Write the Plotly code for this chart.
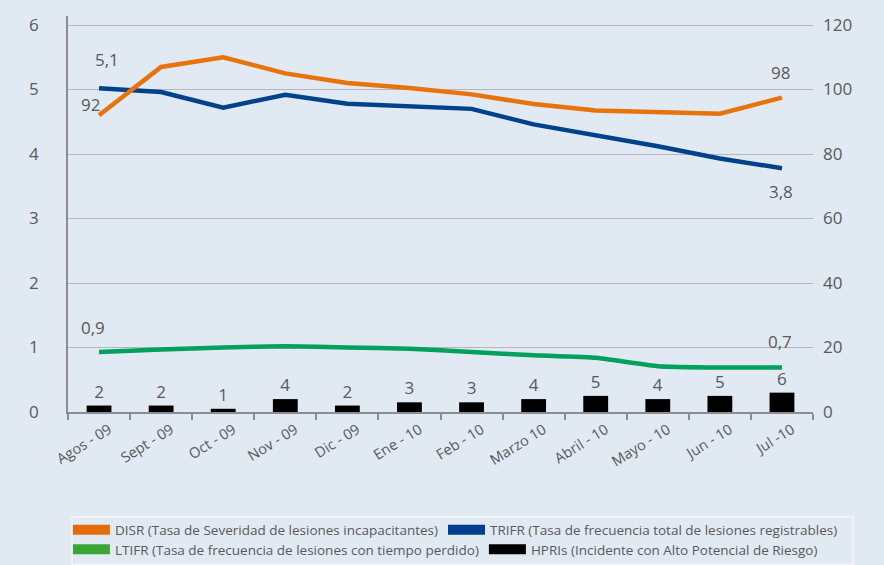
import plotly.graph_objects as go

meses = ["Agos - 09", "Sept - 09", "Oct - 09", "Nov - 09", "Dic - 09", "Ene - 10",
         "Feb - 10", "Marzo 10", "Abril - 10", "Mayo - 10", "Jun - 10", "Jul -10"]
disr = [92, 107, 110, 105, 102, 100.5, 98.5, 95.5, 93.5, 93, 92.5, 97.5]
trifr = [5.02, 4.96, 4.72, 4.92, 4.78, 4.74, 4.70, 4.46, 4.29, 4.12, 3.93, 3.78]
ltifr = [0.93, 0.97, 1.0, 1.02, 1.0, 0.98, 0.93, 0.88, 0.84, 0.71, 0.69, 0.69]
hpri = [2, 2, 1, 4, 2, 3, 3, 4, 5, 4, 5, 6]

# end-point labels (text as printed on the chart)
etiquetas = [
    # (serie, indice, texto, eje, xshift, yshift)
    ("trifr", 0, "5,1", "y", 8, 29),
    ("disr", 0, "92", "y2", -9, 11),
    ("disr", 11, "98", "y2", -1, 25),
    ("trifr", 11, "3,8", "y", -1, -23),
    ("ltifr", 0, "0,9", "y", -6, 25),
    ("ltifr", 11, "0,7", "y", -2, 26),
]
series = {"disr": disr, "trifr": trifr, "ltifr": ltifr}

nombres = ["DISR (Tasa de Severidad de lesiones incapacitantes)",
           "TRIFR (Tasa de frecuencia total de lesiones registrables)",
           "LTIFR (Tasa de frecuencia de lesiones con tiempo perdido)",
           "HPRIs (Incidente con Alto Potencial de Riesgo)"]

BG = "#e1e9f2"
TXT = "#595959"
GRID = "#b3b6ba"
AXC = "#8a8d91"
FONT = "Open Sans"

c_or, c_bl, c_gr = "#e8720c", "#00418c", "#00a05e"

idx = list(range(len(meses)))

fig = go.Figure()

fig.add_trace(go.Bar(x=idx, y=hpri, yaxis="y2", width=0.4,
                     marker=dict(color="#000000", line=dict(width=0)),
                     text=[str(v) for v in hpri], textposition="outside",
                     textfont=dict(size=17, color=TXT, family=FONT),
                     cliponaxis=False, showlegend=False, hoverinfo="skip"))
fig.add_trace(go.Scatter(x=idx, y=trifr, mode="lines", yaxis="y",
                         line=dict(color=c_bl, width=4.5), showlegend=False))
fig.add_trace(go.Scatter(x=idx, y=ltifr, mode="lines", yaxis="y",
                         line=dict(color=c_gr, width=4.5, shape="spline", smoothing=0.3),
                         showlegend=False))
fig.add_trace(go.Scatter(x=idx, y=disr, mode="lines", yaxis="y2",
                         line=dict(color=c_or, width=4.5), showlegend=False))

# legend-only entries (wide coloured swatches)
leg_cols = ["#e36c09", "#003f8f", "#3ca634", "#000000"]
leg_ids = ["legend", "legend", "legend2", "legend2"]
for nm, col, lg in zip(nombres, leg_cols, leg_ids):
    fig.add_trace(go.Scatter(x=[None], y=[None], mode="lines", name=nm,
                             line=dict(color=col, width=11), yaxis="y",
                             legend=lg, showlegend=True))

ann = []
for s, i, t, ax, dx, dy in etiquetas:
    ann.append(dict(x=idx[i], y=series[s][i], xref="x", yref=ax, text=t,
                    showarrow=False, xshift=dx, yshift=dy,
                    font=dict(size=17, color=TXT, family=FONT)))

L, R, T, B = 68, 813, 16, 412
W, H = 884, 565
pw, ph = R - L, B - T

def px2x(p):
    return (p - L) / pw

def px2y(p):
    return (B - p) / ph

fig.update_layout(
    width=W, height=H,
    margin=dict(l=L, r=W - R, t=T, b=H - B, autoexpand=False),
    paper_bgcolor=BG, plot_bgcolor=BG,
    font=dict(family=FONT, color=TXT),
    xaxis=dict(range=[-0.5, len(meses) - 0.5], showline=True, linecolor=AXC, linewidth=1.5,
               tickmode="array", tickvals=[i + 0.16 for i in idx], ticktext=meses,
               ticks="", tickangle=-32, tickfont=dict(size=14.5, color=TXT),
               ticklabelstandoff=2,
               minor=dict(tickmode="array", tickvals=[i - 0.5 for i in range(len(meses) + 1)],
                          ticks="outside", ticklen=6, tickcolor=AXC, tickwidth=1.5,
                          showgrid=False),
               showgrid=False, zeroline=False),
    yaxis=dict(range=[0, 6.14], tickvals=[0, 1, 2, 3, 4, 5, 6], showgrid=True,
               gridcolor=GRID, gridwidth=1, zeroline=False, showline=True,
               linecolor=AXC, linewidth=1.5, ticks="", ticklabelstandoff=24,
               tickfont=dict(size=17, color=TXT)),
    yaxis2=dict(range=[0, 122.8], tickvals=[0, 20, 40, 60, 80, 100, 120],
                overlaying="y", side="right", showgrid=False, zeroline=False,
                showline=False, ticks="", ticklabelstandoff=9,
                tickfont=dict(size=17, color=TXT)),
    legend=dict(orientation="h", x=-0.0001, xanchor="left", y=px2y(530), yanchor="middle",
                bgcolor="rgba(0,0,0,0)", borderwidth=0, itemwidth=37,
                font=dict(size=13.5, color=TXT, family=FONT), itemclick=False),
    legend2=dict(orientation="h", x=-0.0001, xanchor="left", y=px2y(549.5), yanchor="middle",
                 bgcolor="rgba(0,0,0,0)", borderwidth=0, itemwidth=37,
                 font=dict(size=13.5, color=TXT, family=FONT), itemclick=False),
    annotations=ann,
    shapes=[dict(type="rect", xref="paper", yref="paper",
                 x0=px2x(72), x1=px2x(853), y0=px2y(564), y1=px2y(517),
                 line=dict(color="#f3f6fa", width=1.5), fillcolor="rgba(0,0,0,0)",
                 layer="below")],
    showlegend=True,
)

fig.write_html("out.html", config={"displayModeBar": False},
               post_script="document.body.style.margin='0';"
                           "document.body.style.background='#e1e9f2';")
